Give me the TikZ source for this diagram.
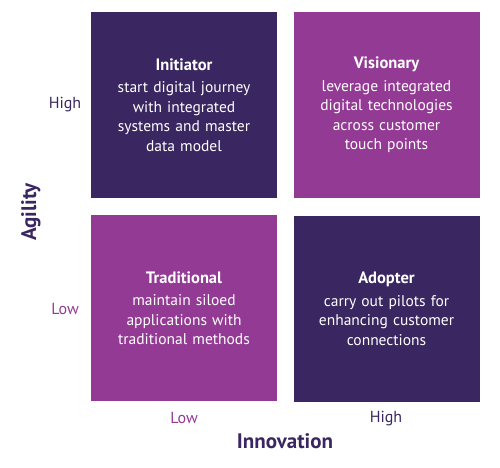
\documentclass[tikz,border=0pt]{standalone}
\usepackage{fontspec}
\setmainfont{PT Sans}
\usetikzlibrary{positioning}
\definecolor{deeppurple}{HTML}{3A2660}
\definecolor{orchid}{HTML}{933A94}

\begin{document}
\begin{tikzpicture}[x=1pt,y=-1pt,
  font=\fontsize{15.5}{19.5}\selectfont,
  every node/.style={inner sep=0pt},
  quad/.style={minimum width=186pt,minimum height=186pt,
    text=white,align=center,text width=176pt},
  axislbl/.style={font=\fontsize{21}{22}\selectfont\bfseries,text=deeppurple},
  tick/.style={font=\fontsize{16}{18}\selectfont}]
\path[use as bounding box] (0,0) rectangle (500,467);

\node[quad,fill=deeppurple] (initiator) at (184,105)
  {{\bfseries\fontsize{16.5}{19.5}\selectfont Initiator}\\[3pt]
   start digital journey\\with integrated\\systems and master\\data model};
\node[quad,fill=orchid] (visionary) at (386.5,105)
  {{\bfseries\fontsize{16.5}{19.5}\selectfont Visionary}\\[3pt]
   leverage integrated\\digital technologies\\across customer\\touch points};
\node[quad,fill=orchid] (traditional) at (184,308)
  {{\bfseries\fontsize{16.5}{19.5}\selectfont Traditional}\\[3pt]
   maintain siloed\\applications with\\traditional methods};
\node[quad,fill=deeppurple] (adopter) at (386.5,309)
  {{\bfseries\fontsize{16.5}{19.5}\selectfont Adopter}\\[3pt]
   carry out pilots for\\enhancing customer\\connections};

\node[tick,text=deeppurple] (yhigh) at (65,105) {High};
\node[tick,text=orchid] (ylow) at (65,309) {Low};
\node[tick,text=orchid] (xlow) at (184,418) {Low};
\node[tick,text=deeppurple] (xhigh) at (386,419) {High};

\node[axislbl] (innovation) at (285,441) {Innovation};
\node[axislbl,rotate=90] (agility) at (31,212) {Agility};
\end{tikzpicture}
\end{document}
